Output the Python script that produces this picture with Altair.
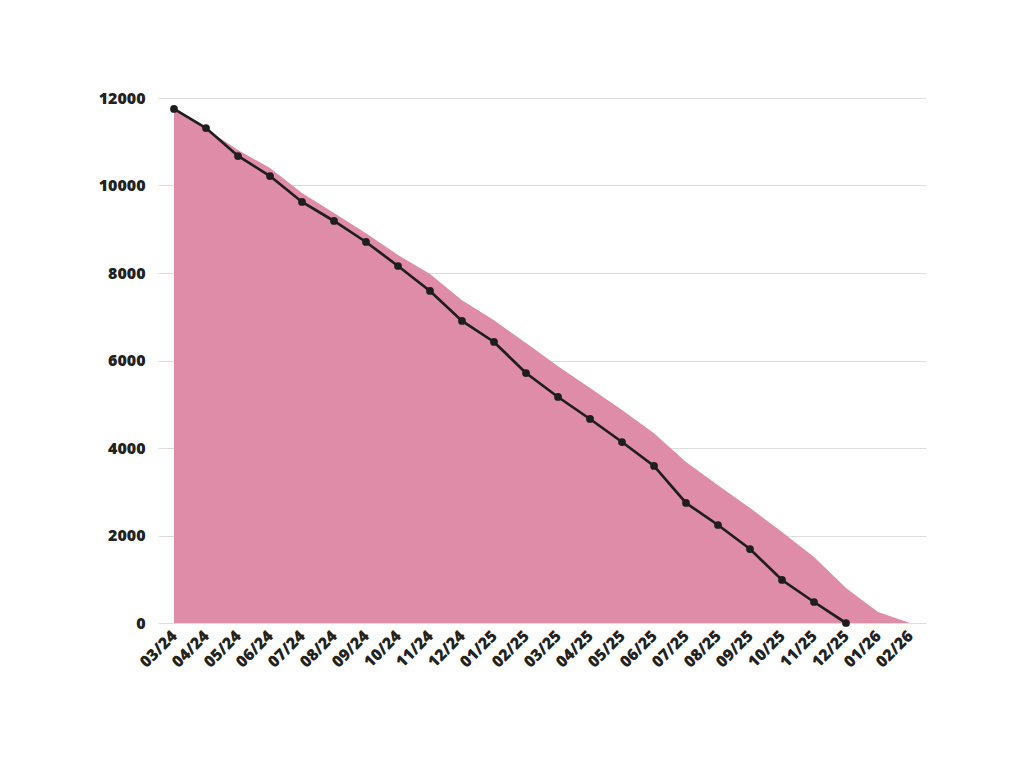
import altair as alt
import pandas as pd

months = ["03/24", "04/24", "05/24", "06/24", "07/24", "08/24", "09/24", "10/24",
          "11/24", "12/24", "01/25", "02/25", "03/25", "04/25", "05/25", "06/25",
          "07/25", "08/25", "09/25", "10/25", "11/25", "12/25", "01/26", "02/26"]

ideal = [11750, 11300, 10810, 10400, 9830, 9370, 8910, 8410, 7980, 7380, 6920, 6400,
         5870, 5370, 4870, 4340, 3680, 3150, 2630, 2080, 1510, 800, 250, 0]

actual_months = months[:22]
actual = [11750, 11314, 10674, 10217, 9623, 9189, 8709, 8160, 7589, 6903, 6423, 5714,
          5166, 4663, 4137, 3589, 2743, 2240, 1691, 983, 480, 0]

df_area = pd.DataFrame({"month": months, "value": ideal})
df_line = pd.DataFrame({"month": actual_months, "value": actual})

FONT = "Open Sans"

x = alt.X("month:O", sort=months,
          scale=alt.Scale(type="point", padding=0.5, domain=months),
          axis=alt.Axis(title=None, labelAngle=-45, labelAlign="right",
                        labelBaseline="middle", labelFont=FONT, labelFontSize=16,
                        labelFontWeight=800, labelColor="#222222", labelPadding=10,
                        ticks=False, domain=False, grid=False))
y = alt.Y("value:Q", scale=alt.Scale(domain=[0, 12000]),
          axis=alt.Axis(title=None, values=[0, 2000, 4000, 6000, 8000, 10000, 12000],
                        format="d",
                        labelFont=FONT, labelFontSize=16, labelFontWeight=800,
                        labelColor="#222222", labelPadding=13, ticks=False,
                        domain=False, grid=True, gridColor="#dddddd", gridWidth=1))

area = alt.Chart(df_area).mark_area(color="#df8ca8", opacity=1, interpolate="linear").encode(x=x, y=y)
line = alt.Chart(df_line).mark_line(color="#1e1e1e", strokeWidth=2.7).encode(x=x, y=y)
points = alt.Chart(df_line).mark_circle(color="#1e1e1e", size=60, opacity=1).encode(x=x, y=y)

chart = (area + line + points).properties(
    width=768, height=525,
    autosize=alt.AutoSizeParams(type="none"),
    padding={"left": 150, "top": 90, "right": 60, "bottom": 120},
).configure(font=FONT).configure_view(stroke=None, strokeWidth=0)

chart.save("out.html", embed_options={"renderer": "svg", "actions": False})
